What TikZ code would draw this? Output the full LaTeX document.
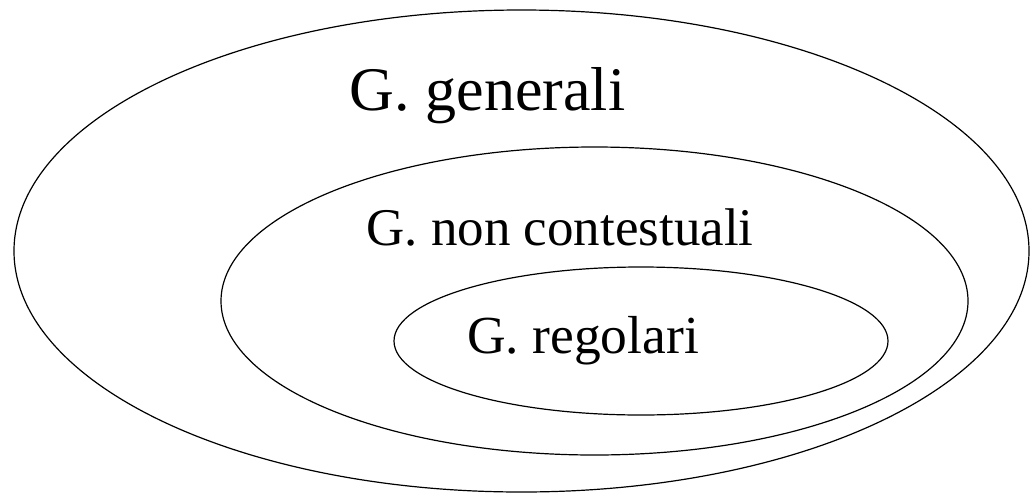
\documentclass[tikz,border=0pt]{standalone}
\usepackage{fontspec}
\setmainfont{Liberation Serif}
\usetikzlibrary{shapes.geometric}
\begin{document}
\begin{tikzpicture}[x=1pt,y=-1pt,
  setring/.style={ellipse, draw=black, line width=1.2pt, inner sep=0pt},
  setlabel/.style={anchor=base, inner sep=0pt}]
\useasboundingbox (0,0) rectangle (1030,493);
% nested classes of grammars
\node[setring, minimum width=1015pt, minimum height=482pt] (outer) at (521.5,251) {};
\node[setring, minimum width=747pt, minimum height=308pt] (middle) at (594.5,301) {};
\node[setring, minimum width=494pt, minimum height=148pt] (inner) at (641,341) {};
% labels
\node[setlabel, font=\fontsize{62}{74}\selectfont] (lgen) at (487.5,110) {G. generali};
\node[setlabel, font=\fontsize{53}{63}\selectfont] (lcf) at (560,245) {G. non contestuali};
\node[setlabel, font=\fontsize{53.5}{64}\selectfont] (lreg) at (583,353) {G. regolari};
\end{tikzpicture}
\end{document}
